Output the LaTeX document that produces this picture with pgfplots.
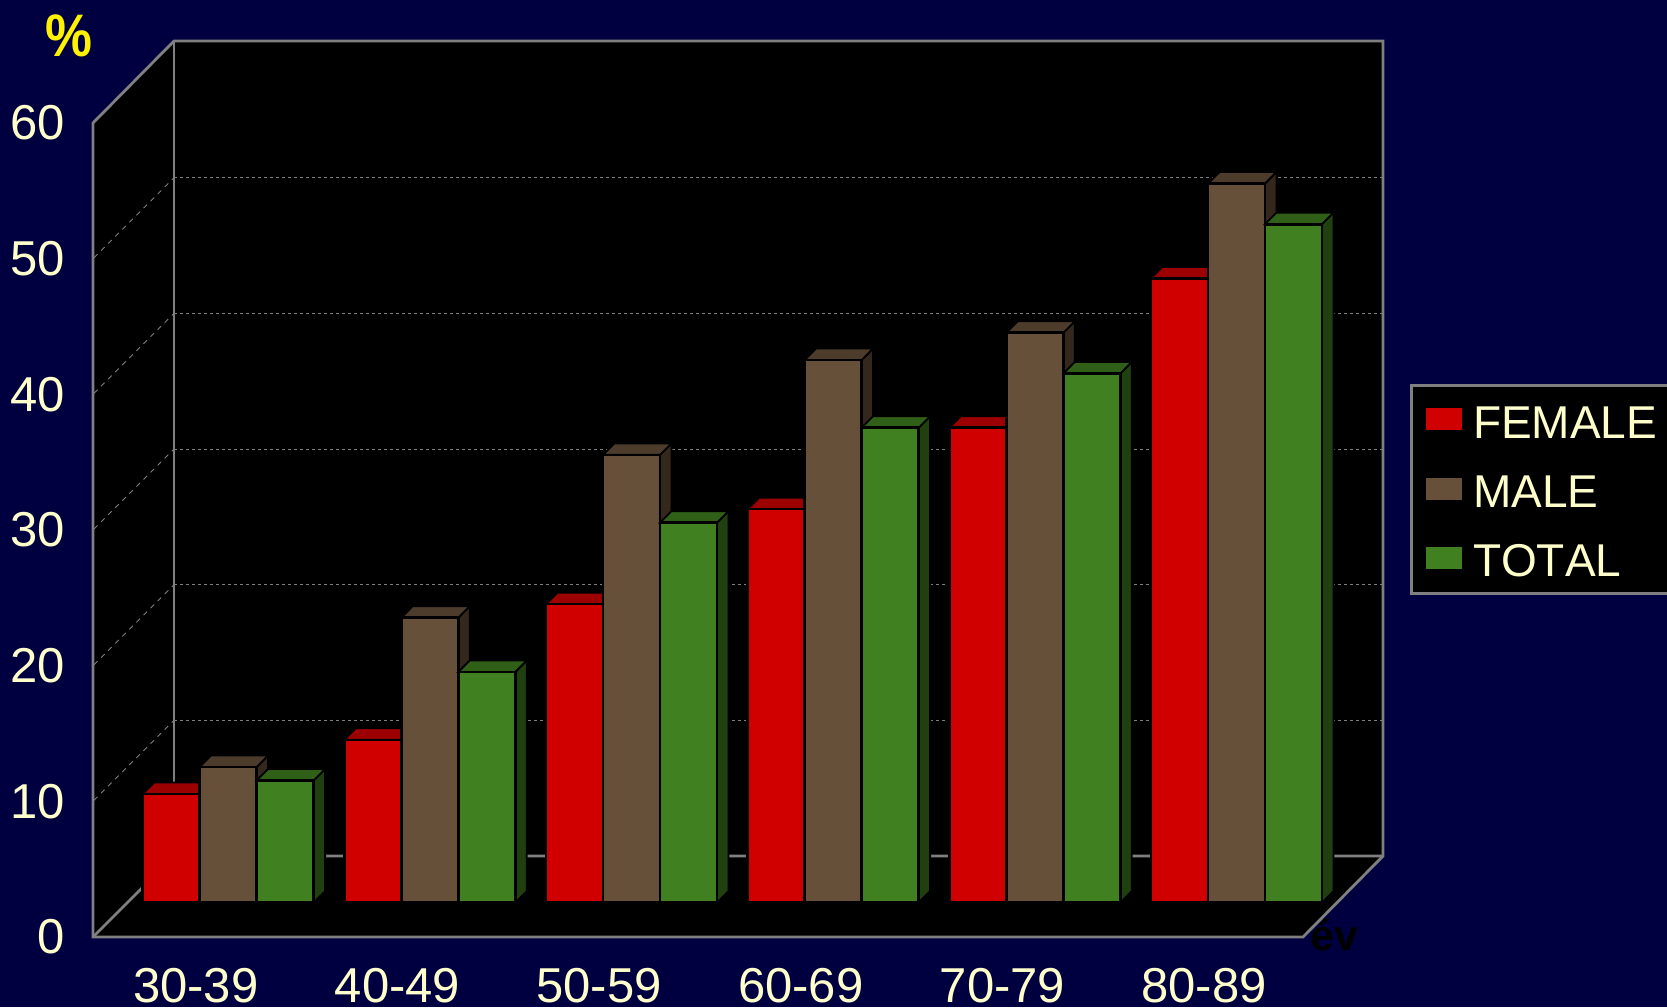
\documentclass[border=0pt]{standalone}
\usepackage{pgfplots}
\usepackage{pgfplotstable}
\usepackage{fontspec}
\pgfplotsset{compat=1.18}
\setmainfont{Liberation Sans}
\newfontfamily\legendfont[Kerning=Off]{Liberation Sans}

\definecolor{slide}{RGB}{0,0,64}
\definecolor{frameline}{RGB}{128,128,128}
\definecolor{cream}{RGB}{255,255,204}
\definecolor{redfront}{RGB}{208,0,0}
\definecolor{redtop}{RGB}{156,0,0}
\definecolor{redside}{RGB}{102,0,0}
\definecolor{brownfront}{RGB}{103,80,57}
\definecolor{browntop}{RGB}{77,60,43}
\definecolor{brownside}{RGB}{52,40,29}
\definecolor{greenfront}{RGB}{64,128,32}
\definecolor{greentop}{RGB}{48,96,24}
\definecolor{greenside}{RGB}{32,64,16}

% Percentage per age group
\pgfplotstableread{
x female male total
0 8 10 9
1 12 21 17
2 22 33 28
3 29 40 35
4 35 42 39
5 46 53 50
}\barvalues

% Top and right faces of one series; the front face is the ybar plot itself
\newcommand\barfaces[4]{%
  \pgfplotsinvokeforeach{0,...,5}{%
    \pgfplotstablegetelem{##1}{#1}\of\barvalues
    \pgfmathsetmacro\val{\pgfplotsretval}%
    \pgfmathsetmacro\valb{\val+0.85}%
    \pgfmathsetmacro\xl{##1+#2-0.1413}%
    \pgfmathsetmacro\xr{##1+#2+0.1413}%
    \pgfmathsetmacro\xlb{\xl+0.057}%
    \pgfmathsetmacro\xrb{\xr+0.057}%
    \edef\faces{%
      \noexpand\addplot[forget plot,fill=#4,draw=black,line width=1.8pt]
        coordinates {(\xr,0)(\xrb,0.85)(\xrb,\valb)(\xr,\val)} --cycle;
      \noexpand\addplot[forget plot,fill=#3,draw=black,line width=1.8pt]
        coordinates {(\xl,\val)(\xlb,\valb)(\xrb,\valb)(\xr,\val)} --cycle;
    }%
    \faces
  }%
}

\pgfplotsset{
  bar series/.style={
    ybar, bar width=57pt, fill=#1, draw=black, line width=2.6pt,
    % the extra move-tos set the swatch's height within its row
    legend image code/.code={
      \path (0pt,-17pt) (36pt,17pt);
      \fill[#1,draw=none] (0pt,-10pt) rectangle (36pt,12pt);
    }
  },
}

\begin{document}
\begin{tikzpicture}[x=1pt,y=1pt]
  \path[use as bounding box,clip] (0,0) rectangle (1667,1007);
  \fill[slide] (0,0) rectangle (1667,1007);

  % Walls and floor of the box
  \fill[black] (93,70) -- (93,884) -- (174,966) -- (1383,966) -- (1383,151) -- (1303,70) -- cycle;
  \foreach \k in {1,...,5} {
    \pgfmathsetmacro\yy{151+135.67*\k}
    \pgfmathsetmacro\yf{70+135.67*\k}
    \draw[frameline,line width=0.9pt,dash pattern=on 3pt off 3pt] (174,\yy) -- (1383,\yy);
    \draw[frameline,line width=0.9pt,dash pattern=on 5pt off 5pt] (94,\yf+1) -- (173,\yy-1);
  }
  \draw[frameline,line width=2.8pt,line join=miter]
    (93,70) -- (93,884) -- (174,966) -- (1383,966) -- (1383,151) -- (1303,70) -- cycle;
  \draw[frameline,line width=2.8pt] (93,70) -- (174,151) -- (1383,151);
  \draw[frameline,line width=2.8pt] (174,151) -- (174,966);

  % Front plane: carries the scales
  \begin{axis}[
    at={(93pt,70pt)}, anchor=south west,
    scale only axis, width=1210pt, height=814pt,
    xmin=-0.5, xmax=5.5, ymin=0, ymax=60,
    axis line style={draw=none},
    major tick style={draw=none}, tick align=outside,
    xtick={0,1,2,3,4,5},
    xticklabels={30-39,40-49,50-59,60-69,70-79,80-89},
    ytick={0,10,20,30,40,50,60},
    /pgf/number format/assume math mode=true,
    every tick label/.style={text=cream,
      font=\fontsize{49}{52}\selectfont},
    yticklabel style={anchor=east,inner sep=0pt,xshift=-24pt},
    xticklabel style={anchor=north,inner sep=0pt,yshift=-27pt,xshift=2pt},
  ]
  \end{axis}

  % Bars stand 35 units behind the front plane
  \begin{axis}[
    at={(127.3pt,104.4pt)}, anchor=south west,
    scale only axis, width=1210pt, height=814pt,
    xmin=-0.5, xmax=5.5, ymin=0, ymax=60,
    hide axis, clip=false,
    legend cell align=left,
    legend style={
      at={(1.0601,0.6365)}, anchor=north west,
      draw=frameline, fill=black, line width=2.8pt, text=cream,
      inner xsep=13pt, inner ysep=0pt,
      font=\legendfont\fontsize{46}{48}\selectfont,
      row sep=0pt,
      /tikz/column 1/.style={column sep=10pt},
      nodes={inner sep=0pt,minimum height=69.2pt,text width=215pt,line width=0pt,
        text height=36pt,text depth=0pt},
    },
  ]
    \barfaces{female}{-0.2827}{redtop}{redside}
    \addplot[bar series=redfront, bar shift=-57pt] table[x=x,y=female] {\barvalues};
    \addlegendentry{FEMALE}
    \barfaces{male}{0}{browntop}{brownside}
    \addplot[bar series=brownfront, bar shift=0pt] table[x=x,y=male] {\barvalues};
    \addlegendentry{MALE}
    \barfaces{total}{0.2827}{greentop}{greenside}
    \addplot[bar series=greenfront, bar shift=57pt] table[x=x,y=total] {\barvalues};
    \addlegendentry{TOTAL}
  \end{axis}

  % Scale captions
  \node[anchor=base west,inner sep=0pt,text=black,font=\fontsize{43}{46}\selectfont\bfseries] at (1310,57) {év};
  \node[anchor=base,inner sep=0pt,text=yellow,xscale=0.88,font=\fontsize{60}{62}\selectfont\bfseries] at (69,950) {\%};
\end{tikzpicture}
\end{document}
